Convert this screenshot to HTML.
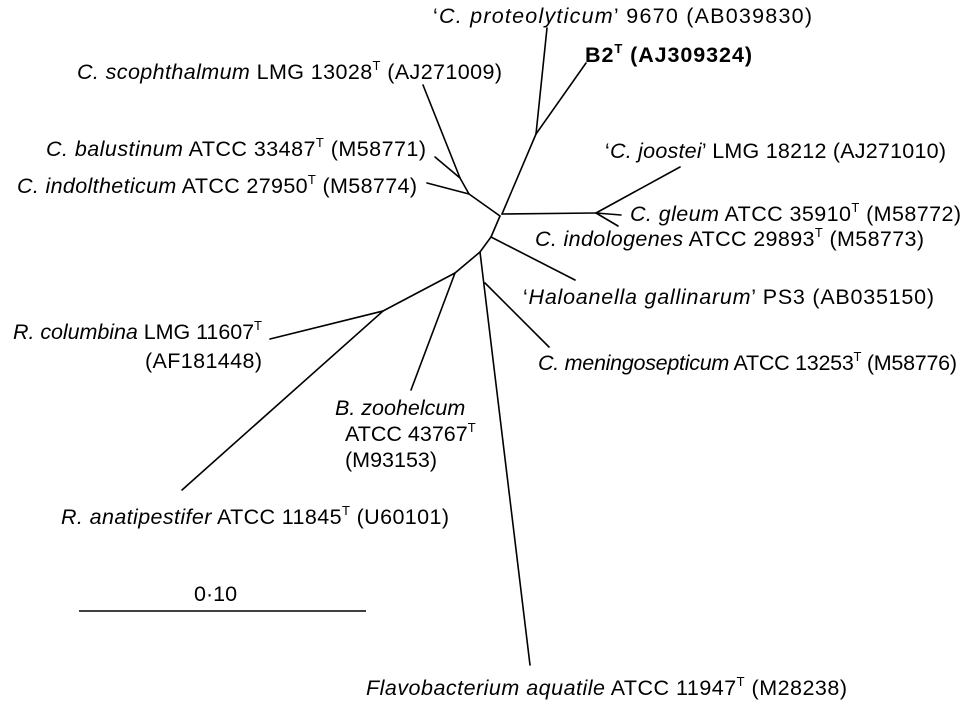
<!DOCTYPE html>
<html><head><meta charset="utf-8"><style>
body{margin:0;background:#fff}
svg{display:block;font-family:"Liberation Sans",Arial,sans-serif;font-size:21.5px}
text{fill:#000}
</style></head><body>
<svg id="tree" width="965" height="704" viewBox="0 0 965 704">
<g id="branches" stroke="#000" stroke-width="1.6" fill="none" stroke-linecap="round"></g>
<g>
<text x="433" y="23" textLength="379" lengthAdjust="spacing">‘<tspan font-style="italic">C. proteolyticum</tspan>’ 9670 (AB039830)</text>
<text x="585" y="62" font-weight="bold" textLength="167" lengthAdjust="spacing">B2<tspan dy="-9" font-size="13">T</tspan><tspan dy="9"> (AJ309324)</tspan></text>
<text x="77" y="79" textLength="425" lengthAdjust="spacing"><tspan font-style="italic">C. scophthalmum</tspan> LMG 13028<tspan dy="-9" font-size="13">T</tspan><tspan dy="9"> (AJ271009)</tspan></text>
<text x="605" y="158" textLength="341" lengthAdjust="spacing">‘<tspan font-style="italic">C. joostei</tspan>’ LMG 18212 (AJ271010)</text>
<text x="46" y="156" textLength="380" lengthAdjust="spacing"><tspan font-style="italic">C. balustinum</tspan> ATCC 33487<tspan dy="-9" font-size="13">T</tspan><tspan dy="9"> (M58771)</tspan></text>
<text x="17" y="193" textLength="400" lengthAdjust="spacing"><tspan font-style="italic">C. indoltheticum</tspan> ATCC 27950<tspan dy="-9" font-size="13">T</tspan><tspan dy="9"> (M58774)</tspan></text>
<text x="630" y="221" textLength="331" lengthAdjust="spacing"><tspan font-style="italic">C. gleum</tspan> ATCC 35910<tspan dy="-9" font-size="13">T</tspan><tspan dy="9"> (M58772)</tspan></text>
<text x="535" y="246" textLength="389" lengthAdjust="spacing"><tspan font-style="italic">C. indologenes</tspan> ATCC 29893<tspan dy="-9" font-size="13">T</tspan><tspan dy="9"> (M58773)</tspan></text>
<text x="523" y="304" textLength="411" lengthAdjust="spacing">‘<tspan font-style="italic">Haloanella gallinarum</tspan>’ PS3 (AB035150)</text>
<text x="13" y="339" textLength="249" lengthAdjust="spacing"><tspan font-style="italic">R. columbina</tspan> LMG 11607<tspan dy="-9" font-size="13">T</tspan></text>
<text x="145" y="368" textLength="117" lengthAdjust="spacing">(AF181448)</text>
<text x="538" y="370" textLength="419" lengthAdjust="spacing"><tspan font-style="italic">C. meningosepticum</tspan> ATCC 13253<tspan dy="-9" font-size="13">T</tspan><tspan dy="9"> (M58776)</tspan></text>
<text x="335" y="415" font-style="italic">B. zoohelcum</text>
<text x="345" y="441">ATCC 43767<tspan dy="-9" font-size="13">T</tspan></text>
<text x="345" y="467">(M93153)</text>
<text x="61" y="524" textLength="388" lengthAdjust="spacing"><tspan font-style="italic">R. anatipestifer</tspan> ATCC 11845<tspan dy="-9" font-size="13">T</tspan><tspan dy="9"> (U60101)</tspan></text>
<text x="194" y="601">0·10</text>
<text x="366" y="695" textLength="481" lengthAdjust="spacing"><tspan font-style="italic">Flavobacterium aquatile</tspan> ATCC 11947<tspan dy="-9" font-size="13">T</tspan><tspan dy="9"> (M28238)</tspan></text>
</g>
<line x1="79" y1="611" x2="366" y2="611" stroke="#000" stroke-width="1.6"/>
</svg>
<script>
const edgeNames = ["scophthalmum","balustinum","nodeA-indol","indoltheticum","nodeA-root","root-upper","proteolyticum","b2","root-right","joostei","gleum","indologenes","root-down","haloanella","down-nodeC","nodeC-nodeD","zoohelcum","nodeD-nodeE","columbina","anatipestifer","nodeC-flavo","meningosepticum"];
const edgeFrom = [[423,85],[435,157],[460,178],[427,183],[469,194],[502,214],[536,134],[536,134],[502,214],[596,213],[596,213],[596,213],[500,216],[491,237],[491,237],[480,252],[455,273],[455,273],[383,311],[383,311],[480,252],[485,283]];
const edgeTo   = [[460,178],[460,178],[469,194],[469,194],[500,216],[536,134],[547,28],[586,63],[596,213],[680,167],[621,215],[618,226],[491,237],[575,280],[480,252],[455,273],[411,390],[383,311],[270,339],[182,490],[530,665],[549,347]];
const g = document.getElementById('branches');
for (let i = 0; i < edgeNames.length; i++) {
  const l = document.createElementNS('http://www.w3.org/2000/svg', 'line');
  l.setAttribute('x1', edgeFrom[i][0]); l.setAttribute('y1', edgeFrom[i][1]);
  l.setAttribute('x2', edgeTo[i][0]); l.setAttribute('y2', edgeTo[i][1]);
  
  
  g.appendChild(l);
}
</script>
</body></html>
